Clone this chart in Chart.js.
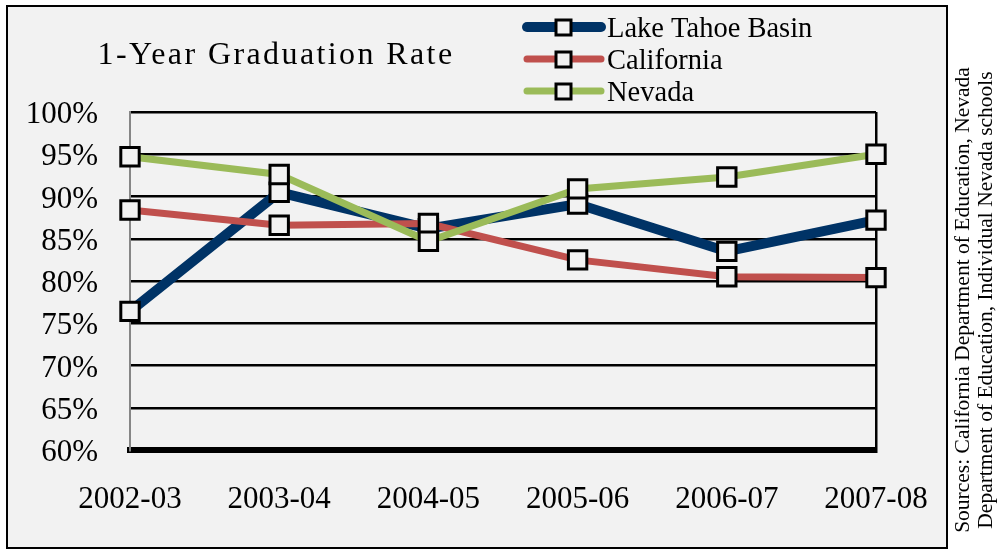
<!DOCTYPE html>
<html>
<head>
<meta charset="utf-8">
<script src="https://cdn.jsdelivr.net/npm/chart.js@4"></script>
<style>
  html, body { margin: 0; padding: 0; background: #ffffff; }
  #wrap { width: 999px; height: 553px; position: relative; }
</style>
</head>
<body>
<div id="wrap"><canvas id="gradChart" width="999" height="553"></canvas></div>
<script>
const years = ['2002-03', '2003-04', '2004-05', '2005-06', '2006-07', '2007-08'];
const lakeTahoe = [76.4, 90.5, 86.2, 89.1, 83.5, 87.2];
const california = [88.4, 86.6, 86.8, 82.5, 80.5, 80.4];
const nevada = [94.7, 92.6, 84.7, 90.9, 92.3, 95.0];
const seriesNames = ['Lake Tahoe Basin', 'California', 'Nevada'];
const seriesColors = ['#003366', '#c0504d', '#9bbb59'];
const chartTitle = '1-Year Graduation Rate';
const sourceLines = ['Sources: California Department of Education, Nevada',
                     'Department of Education, Individual Nevada schools'];

const SERIF = '"Liberation Serif", "Times New Roman", serif';
const PANEL = '#f2f2f2';

// background panel, border, title, legend and sources
const decorations = {
    id: 'decorations',
    beforeDraw(chart) {
        const ctx = chart.ctx;
        ctx.save();
        ctx.fillStyle = PANEL;
        ctx.fillRect(7, 6, 940, 542);
        ctx.restore();
    },
    afterDraw(chart) {
        const ctx = chart.ctx;
        ctx.save();
        ctx.strokeStyle = '#000';
        ctx.lineWidth = 2;
        ctx.strokeRect(7, 6, 940, 542);

        // title
        ctx.fillStyle = '#000';
        ctx.font = '32px ' + SERIF;
        ctx.letterSpacing = '2.4px';
        ctx.textAlign = 'center';
        ctx.textBaseline = 'alphabetic';
        ctx.fillText(chartTitle, 276, 64);
        ctx.letterSpacing = '0px';

        // legend
        const rowY = [27, 59, 91];
        const widths = [10, 7, 7];
        seriesNames.forEach((name, i) => {
            const y = rowY[i];
            ctx.strokeStyle = seriesColors[i];
            ctx.lineWidth = widths[i];
            ctx.lineCap = 'round';
            ctx.beginPath();
            ctx.moveTo(527, y);
            ctx.lineTo(601, y);
            ctx.stroke();
            ctx.fillStyle = PANEL;
            ctx.fillRect(556, y - 7, 15, 15);
            ctx.strokeStyle = '#000';
            ctx.lineWidth = 3;
            ctx.lineCap = 'butt';
            ctx.strokeRect(556, y - 7, 15, 15);
            ctx.fillStyle = '#000';
            ctx.font = '28.5px ' + SERIF;
            ctx.textAlign = 'left';
            ctx.textBaseline = 'alphabetic';
            ctx.fillText(name, 607, y + 10);
        });

        // sources, rotated
        ctx.font = '21.5px ' + SERIF;
        ctx.fillStyle = '#000';
        ctx.textAlign = 'center';
        ctx.textBaseline = 'middle';
        [963, 986].forEach((x, i) => {
            ctx.save();
            ctx.translate(x, 300);
            ctx.rotate(-Math.PI / 2);
            ctx.fillText(sourceLines[i], 0, 0);
            ctx.restore();
        });
        ctx.restore();
    }
};

function makeDataset(label, data, color, width, order) {
    return {
        label: label,
        data: data,
        borderColor: color,
        backgroundColor: color,
        borderWidth: width,
        tension: 0,
        pointStyle: 'rect',
        pointRadius: 13,
        pointHoverRadius: 13,
        pointBorderWidth: 3,
        pointBorderColor: '#000',
        pointBackgroundColor: PANEL,
        clip: false,
        order: order
    };
}

const ctx = document.getElementById('gradChart').getContext('2d');
new Chart(ctx, {
    type: 'line',
    data: {
        labels: years,
        datasets: [
            makeDataset(seriesNames[0], lakeTahoe, seriesColors[0], 10, 2),
            makeDataset(seriesNames[1], california, seriesColors[1], 7, 1),
            makeDataset(seriesNames[2], nevada, seriesColors[2], 7, 0)
        ]
    },
    options: {
        responsive: false,
        animation: false,
        events: [],
        layout: { padding: { left: 0, right: 123, top: 112, bottom: 0 } },
        plugins: {
            legend: { display: false },
            title: { display: false },
            tooltip: { enabled: false }
        },
        scales: {
            x: {
                offset: false,
                afterFit: scale => { scale.height = 103; },
                grid: {
                    drawTicks: false,
                    lineWidth: 2.5,
                    color: c => (c.index === years.length - 1 ? '#000' : 'rgba(0,0,0,0)')
                },
                border: { display: true, color: '#000', width: 6 },
                ticks: {
                    padding: 31,
                    color: '#000',
                    font: { family: SERIF, size: 31 }
                }
            },
            y: {
                min: 60,
                max: 100,
                afterFit: scale => { scale.width = 130; },
                grid: {
                    drawTicks: false,
                    lineWidth: 2.5,
                    color: c => (c.tick && c.tick.value === 60 ? 'rgba(0,0,0,0)' : '#000')
                },
                border: { display: true, color: '#868686', width: 2 },
                ticks: {
                    stepSize: 5,
                    padding: 32,
                    labelOffset: 3,
                    color: '#000',
                    font: { family: SERIF, size: 31 },
                    callback: v => v + '%'
                }
            }
        }
    },
    plugins: [decorations]
});
</script>
</body>
</html>
